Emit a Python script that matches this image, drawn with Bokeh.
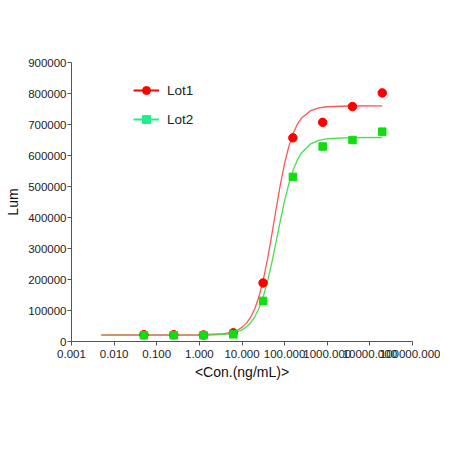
from bokeh.plotting import figure
from bokeh.models import (Range1d, FixedTicker, Legend, LegendItem, ColumnDataSource,
                          BasicTickFormatter)
from bokeh.embed import file_html
from bokeh.resources import INLINE

# ---- data ----
conc = [0.05, 0.25, 1.25, 6.25, 31.25, 156.25, 781.25, 3906.25, 19531.25]
lot1 = [22000, 22000, 21000, 28000, 189000, 657000, 707000, 758000, 802000]
lot2 = [20000, 20000, 20000, 23000, 131000, 531000, 629000, 650000, 677000]

# fitted curves
curve_x = [0.005, 1, 3.162, 5.012, 6.31, 7.943, 10, 12.59, 15.85, 19.95, 25.12,
           31.62, 39.81, 50.12, 63.1, 79.43, 100, 125.9, 158.5, 199.5, 251.2,
           398.1, 631, 1000, 3162, 19531]
curve1 = [21500, 21780, 24120, 27890, 31470, 36990, 45490, 58400, 77700, 105900,
          145800, 199300, 266500, 344700, 427100, 506200, 574900, 630200, 671500,
          700900, 721200, 743700, 753300, 757200, 759700, 760000]
curve2 = [20000, 20240, 22050, 24860, 27460, 31430, 37450, 46510, 59960, 79590,
          107500, 145500, 194900, 254700, 321800, 390300, 454400, 509200, 552900,
          585700, 609100, 636500, 648800, 654100, 657500, 658000]

x_ticks = [0.001, 0.01, 0.1, 1, 10, 100, 1000, 10000, 100000]
x_tick_labels = ["0.001", "0.010", "0.100", "1.000", "10.000", "100.000",
                 "1000.000", "10000.000", "100000.000"]
y_ticks = [0, 100000, 200000, 300000, 400000, 500000, 600000, 700000, 800000, 900000]

series_names = ["Lot1", "Lot2"]

FONT = "Liberation Sans"
NAN = float("nan")

p = figure(width=440, height=433, x_axis_type="log",
           x_range=Range1d(0.001, 100000), y_range=Range1d(0, 900000),
           output_backend="svg", toolbar_location=None,
           min_border_left=71, min_border_right=28, min_border_top=62,
           min_border_bottom=92)
p.outline_line_color = None
p.xgrid.visible = False
p.ygrid.visible = False
p.background_fill_color = "white"

# curves
p.line(curve_x, curve1, line_color="#ff5555", line_width=1.3)
p.line(curve_x, curve2, line_color="#4ade4a", line_width=1.3)

# points
p.scatter(conc, lot1, marker="circle", size=8.5, fill_color="#ff0000",
          line_color="#ff0000")
p.scatter(conc, lot2, marker="square", size=7.5, fill_color="#11dd11",
          line_color="#11dd11")

# legend renderers (no visible data)
empty = ColumnDataSource(data=dict(x=[NAN], y=[NAN]))
l1 = p.line("x", "y", source=empty, line_color="#ff0000", line_width=2)
m1 = p.scatter("x", "y", source=empty, marker="circle", size=9,
               fill_color="#ff0000", line_color="#ff0000")
l2 = p.line("x", "y", source=empty, line_color="#22ee88", line_width=2)
m2 = p.scatter("x", "y", source=empty, marker="square", size=8,
               fill_color="#22ee88", line_color="#22ee88")

legend = Legend(items=[LegendItem(label=series_names[0], renderers=[l1, m1]),
                       LegendItem(label=series_names[1], renderers=[l2, m2])],
                location=(62, 212), padding=0, margin=0, spacing=9,
                glyph_width=26, glyph_height=20, label_height=20,
                label_standoff=8, border_line_alpha=0, background_fill_alpha=0,
                label_text_font=FONT, label_text_font_size="13.5px",
                label_text_color="#222222")
p.add_layout(legend)

# axes
for ax in (p.xaxis[0], p.yaxis[0]):
    ax.axis_line_color = "#555555"
    ax.major_tick_line_color = "#555555"
    ax.major_tick_out = 4
    ax.major_tick_in = 0
    ax.minor_tick_out = 0
    ax.minor_tick_in = 0
    ax.major_label_text_font = FONT
    ax.major_label_text_font_size = "11.5px"
    ax.major_label_text_color = "#222222"
    ax.axis_label_text_font = FONT
    ax.axis_label_text_font_size = "14px"
    ax.axis_label_text_font_style = "normal"
    ax.axis_label_text_color = "#111111"

p.xaxis.ticker = FixedTicker(ticks=x_ticks)
p.xaxis.major_label_overrides = {t: l for t, l in zip(x_ticks, x_tick_labels)}
p.xaxis.major_label_standoff = 4
p.xaxis.axis_label = "<Con.(ng/mL)>"
p.xaxis.axis_label_standoff = 3

p.yaxis.ticker = FixedTicker(ticks=y_ticks)
p.yaxis.formatter = BasicTickFormatter(use_scientific=False)
p.yaxis.major_label_standoff = 1
p.yaxis.axis_label = "Lum"
p.yaxis.axis_label_standoff = 4

open("out.html", "w").write(file_html(p, INLINE))
